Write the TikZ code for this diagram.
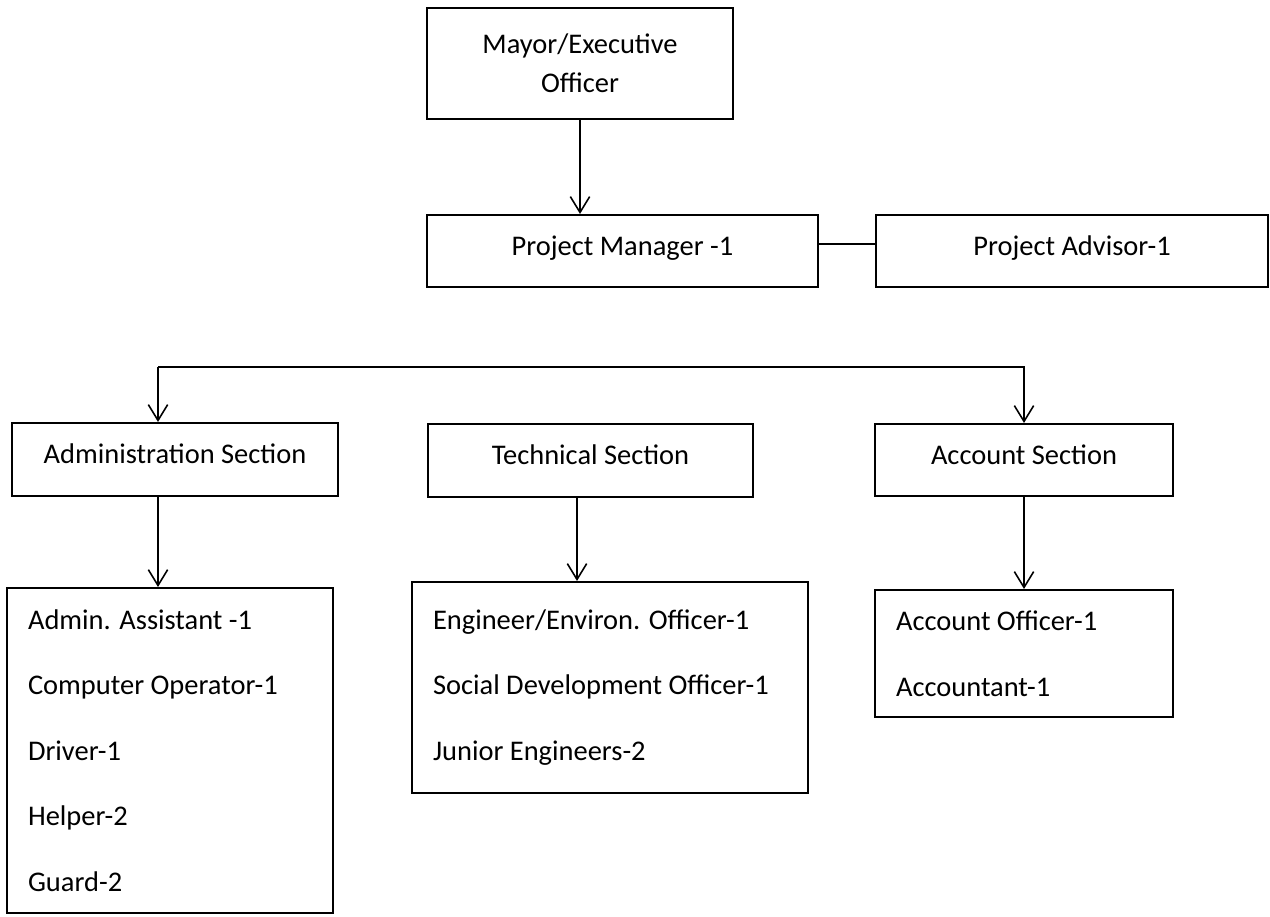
\documentclass[tikz,border=0pt]{standalone}
\usepackage{fontspec}
\setmainfont{Carlito}
\usetikzlibrary{arrows.meta,positioning}

\begin{document}
\begin{tikzpicture}[
  x=0.02cm, y=-0.02cm,
  box/.style={draw,line width=1.2pt,align=center,inner sep=0pt,font=\fontsize{16.2}{22.2}\selectfont},
  single/.style={box,text depth=0.22cm},
  list/.style={box,align=flush left,inner xsep=0.42cm,font=\fontsize{16.2}{37.3}\selectfont},
  arrow/.style={-{Straight Barb[length=9pt,width=11pt]},line width=0.9pt}
]
\useasboundingbox (0,0) rectangle (1270,916);

% top of the chart
\node[box,minimum width=6.12cm,minimum height=2.22cm] (mayor) at (580,63.5) {Mayor/Executive\\Officer};
\node[single,minimum width=7.82cm,minimum height=1.44cm] (pm) at (622.5,251) {Project Manager -1};
\node[single,minimum width=7.84cm,minimum height=1.44cm,right=1.12cm of pm] (advisor) {Project Advisor-1};

% sections
\node[single,minimum width=6.52cm,minimum height=1.46cm] (admin) at (175,459.5) {Administration Section};
\node[single,minimum width=6.5cm,minimum height=1.46cm] (tech) at (590.5,460.5) {Technical Section};
\node[single,minimum width=5.96cm,minimum height=1.44cm] (account) at (1024,460) {Account Section};

% staff
\node[list,text width=5.68cm,minimum height=6.5cm] (adminlist) at (170,750.5) {Admin. Assistant -1\\Computer Operator-1\\Driver-1\\Helper-2\\Guard-2};
\node[list,text width=7.08cm,minimum height=4.22cm] (techlist) at (610,687.5) {Engineer/Environ. Officer-1\\Social Development Officer-1\\Junior Engineers-2};
\node[list,text width=5.12cm,minimum height=2.54cm] (acctlist) at (1024,653.5) {Account Officer-1\\Accountant-1};

\coordinate (bus) at (158,367);

\draw[arrow] (mayor.south) -- (mayor.south |- pm.north);
\draw[line width=0.9pt] ([yshift=0.14cm]pm.east) -- ([yshift=0.14cm]pm.east -| advisor.west);
\draw[arrow] (bus) -- (bus |- admin.north);
\draw[arrow] (bus) -| (account.north);
\draw[arrow] (bus |- admin.south) -- (bus |- adminlist.north);
\draw[arrow] ([xshift=-0.27cm]tech.south) -- ([xshift=-0.27cm]tech.south |- techlist.north);
\draw[arrow] (account.south) -- (account.south |- acctlist.north);
\end{tikzpicture}
\end{document}
